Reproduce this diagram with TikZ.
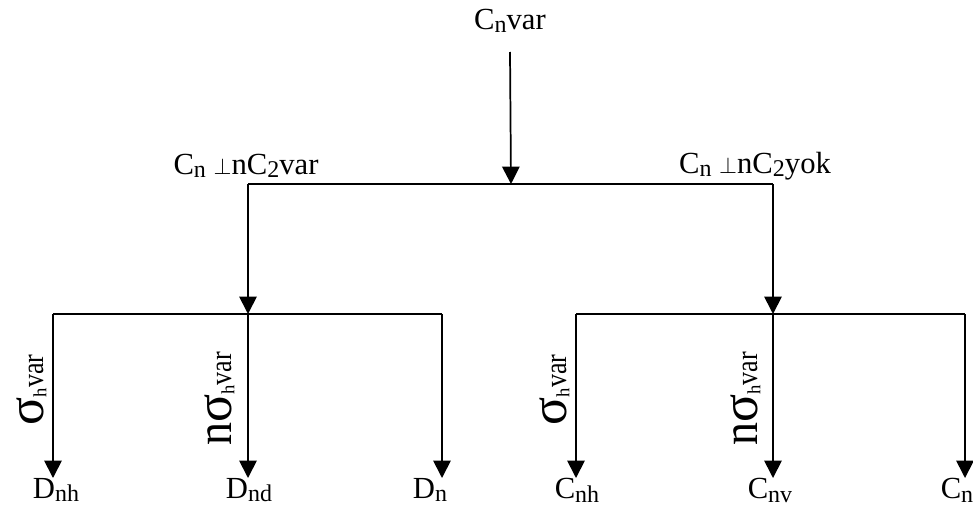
\documentclass[tikz,border=0pt]{standalone}
\usepackage{graphicx}
\usepackage{fontspec}
\setmainfont{Liberation Serif}
\usetikzlibrary{arrows.meta}
% lowered, reduced subscript
\newcommand\sbs[1]{\raisebox{-2.6pt}{\fontsize{18}{18}\selectfont #1}}
\newcommand\perpsym{{\fontsize{17}{17}\selectfont$\perp$}}
% pieces of the branch conditions
\newcommand\bigsig{\scalebox{1.7}{σ}}
\newcommand\bign{\scalebox{1.5}[1.65]{n}}
\newcommand\hsub{\raisebox{-2.5pt}{\fontsize{14}{14}\selectfont h}}
\newcommand\rvar{\scalebox{0.85}[1]{var}}
\begin{document}
\begin{tikzpicture}[x=0.75pt,y=-0.75pt,
  every node/.style={font=\fontsize{23}{27}\selectfont, inner sep=0pt},
  conn/.style={line width=1.3pt},
  arr/.style={conn, -{Triangle[length=13pt,width=13pt]}},
  side/.style={rotate=90, anchor=base}]
\useasboundingbox (0,0) rectangle (973,514);

% root and first split
\node (root) at (510,21) {C\sbs{n}var};
\coordinate (m)  at (511,184);
\coordinate (bl) at (248,184);
\coordinate (br) at (773,184);
\draw[arr] (root.south |- 0,52) -- (m);
\draw[conn] (bl) -- (br);
\node (lbl) at (246,166) {C\sbs{n} \perpsym nC\sbs{2}var};
\node (lbr) at (755,166) {C\sbs{n} \perpsym nC\sbs{2}yok};

% second-level bars
\coordinate (l1) at (53,314);
\coordinate (l2) at (248,314);
\coordinate (l3) at (442,314);
\coordinate (r1) at (576,314);
\coordinate (r2) at (773,314);
\coordinate (r3) at (965,314);
\draw[arr] (bl) -- (l2);
\draw[arr] (br) -- (r2);
\draw[conn] (l1) -- (l3);
\draw[conn] (r1) -- (r3);

% leaves
\node[anchor=north] (dnh) at (56,478) {D\sbs{nh}};
\node[anchor=north] (dnd) at (249,478) {D\sbs{nd}};
\node[anchor=north] (dn)  at (430,478) {D\sbs{n}};
\node[anchor=north] (cnh) at (577,478) {C\sbs{nh}};
\node[anchor=north] (cnv) at (770,478) {C\sbs{nv}};
\node[anchor=north] (cn)  at (957,478) {C\sbs{n}};

\draw[arr] (l1) -- (l1 |- dnh.north);
\draw[arr] (l2) -- (l2 |- dnd.north);
\draw[arr] (l3) -- (l3 |- dn.north);
\draw[arr] (r1) -- (r1 |- cnh.north);
\draw[arr] (r2) -- (r2 |- cnv.north);
\draw[arr] (r3) -- (r3 |- cn.north);

% branch conditions
\node[side] (s1) at (43,390)  {\bigsig\hsub\rvar};
\node[side] (s2) at (231,399) {\bign\bigsig\hsub\rvar};
\node[side] (s3) at (566,390) {\bigsig\hsub\rvar};
\node[side] (s4) at (757,399) {\bign\bigsig\hsub\rvar};
\end{tikzpicture}
\end{document}
